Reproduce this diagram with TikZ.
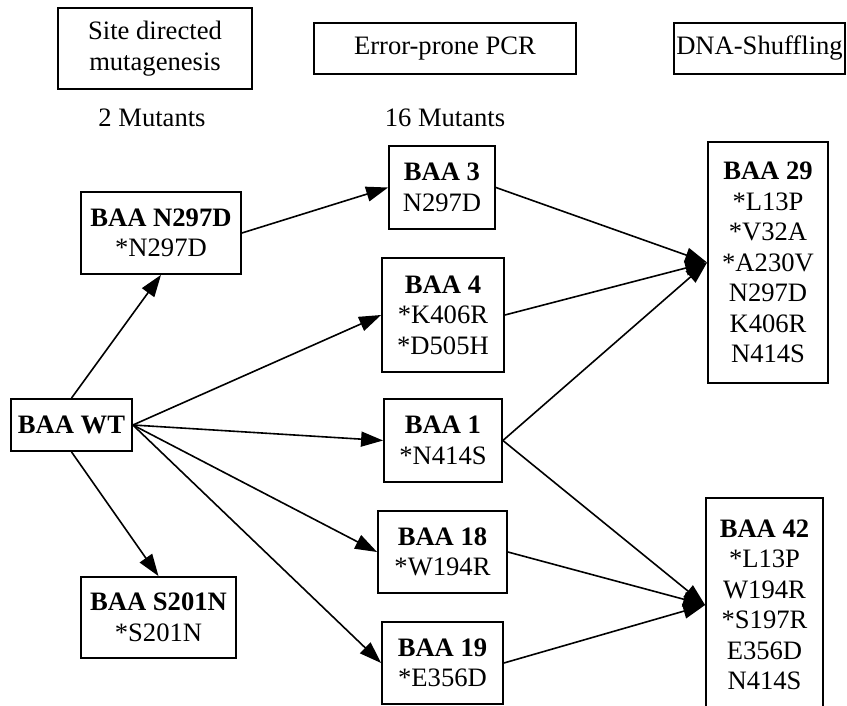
\documentclass[tikz,border=0pt]{standalone}
\usepackage{fontspec}
\setmainfont{Liberation Serif}
\usetikzlibrary{arrows.meta}
\begin{document}
\begin{tikzpicture}[x=1pt,y=-1pt,
  box/.style={draw, line width=1.8pt, inner sep=0pt, align=center,
    font=\fontsize{26.6}{30.5}\selectfont},
  lbl/.style={inner sep=0pt, font=\fontsize{26.6}{30.5}\selectfont},
  link/.style={line width=1.6pt, -{Triangle[length=22pt,width=15pt]}}]
\clip (0,0) rectangle (847,706);

% method headers
\node[box, minimum width=194pt, minimum height=81pt] (site) at (155,48.5)
  {Site directed\\mutagenesis};
\node[box, minimum width=262pt, minimum height=51pt] (epcr) at (445,48.5)
  {Error-prone PCR};
\node[box, minimum width=171pt, minimum height=51pt] (shuf) at (759.5,48.5)
  {DNA-Shuffling};
\node[lbl] (n2) at (152,118) {2 Mutants};
\node[lbl] (n16) at (445,118) {16 Mutants};

% wild type and site-directed mutants
\node[box, minimum width=121pt, minimum height=52pt] (wt) at (71.5,425)
  {\textbf{BAA WT}};
\node[box, minimum width=160pt, minimum height=82pt] (n297d) at (161,233)
  {\textbf{BAA N297D}\\*N297D};
\node[box, minimum width=155pt, minimum height=81pt] (s201n) at (158.5,617.5)
  {\textbf{BAA S201N}\\*S201N};

% error-prone PCR mutants
\node[box, minimum width=106pt, minimum height=83pt] (b3) at (442,187.5)
  {\textbf{BAA 3}\\N297D};
\node[box, minimum width=122pt, minimum height=114pt] (b4) at (443,315)
  {\textbf{BAA 4}\\*K406R\\*D505H};
\node[box, minimum width=118pt, minimum height=83pt] (b1) at (443,440.5)
  {\textbf{BAA 1}\\*N414S};
\node[box, minimum width=129pt, minimum height=82pt] (b18) at (442.5,552)
  {\textbf{BAA 18}\\*W194R};
\node[box, minimum width=121pt, minimum height=82pt] (b19) at (442.5,663)
  {\textbf{BAA 19}\\*E356D};

% shuffled variants
\node[box, minimum width=120pt, minimum height=241pt] (b29) at (768,262.5)
  {\textbf{BAA 29}\\*L13P\\*V32A\\*A230V\\N297D\\K406R\\N414S};
\node[box, minimum width=117pt, minimum height=214pt] (b42) at (764.5,605)
  {\textbf{BAA 42}\\*L13P\\W194R\\*S197R\\E356D\\N414S};

% connectors
\draw[link] (wt.north) -- (n297d.south);
\draw[link] (wt.south) -- (s201n.north);
\draw[link] (n297d.east) -- (b3.west);
\draw[link] (wt.east) -- (b4.west);
\draw[link] (wt.east) -- (b1.west);
\draw[link] (wt.east) -- (b18.west);
\draw[link] (wt.east) -- (b19.west);
\draw[link] (b3.east) -- (b29.west);
\draw[link] (b4.east) -- (b29.west);
\draw[link] (b1.east) -- (b29.west);
\draw[link] (b1.east) -- (b42.west);
\draw[link] (b18.east) -- (b42.west);
\draw[link] (b19.east) -- (b42.west);
\end{tikzpicture}
\end{document}
